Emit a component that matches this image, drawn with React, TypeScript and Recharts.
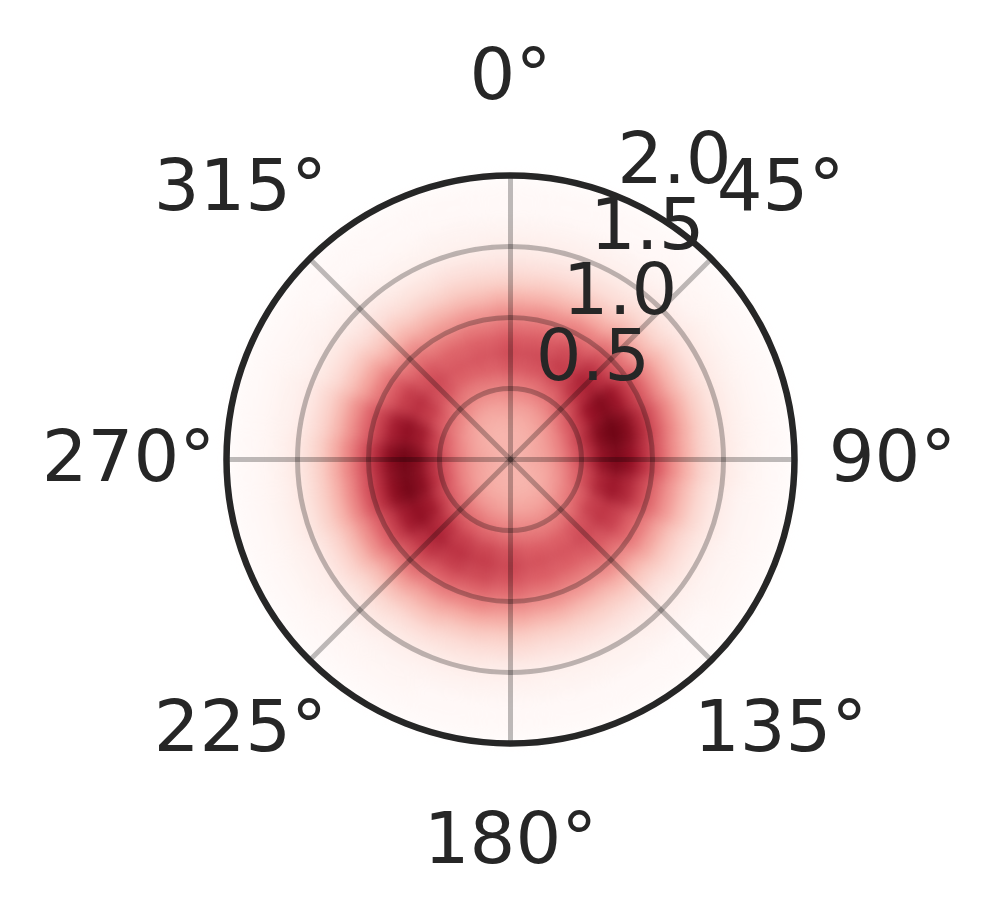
import React from 'react';
import {
  RadialBarChart,
  RadialBar,
  RadarChart,
  PolarAngleAxis,
  PolarRadiusAxis,
  PolarGrid,
  Cell,
} from 'recharts';

// ---------------- data ----------------
// ring centres (radius, data units)
const ringRadii = [0.05, 0.15, 0.25, 0.35, 0.45, 0.55, 0.65, 0.75, 0.85, 0.95, 1.05, 1.15, 1.25, 1.35, 1.45, 1.55, 1.65, 1.75, 1.85, 1.95];
// sector centres (degrees, clockwise from north)
const sectorAngles = [0, 15, 30, 45, 60, 75, 90, 105, 120, 135, 150, 165, 180, 195, 210, 225, 240, 255, 270, 285, 300, 315, 330, 345];
// intensity rows: one row per ring, one value per sector
const intensity: number[][] = [
  [0.32, 0.32, 0.32, 0.32, 0.33, 0.33, 0.33, 0.33, 0.32, 0.32, 0.32, 0.32, 0.32, 0.32, 0.32, 0.32, 0.33, 0.33, 0.33, 0.33, 0.32, 0.32, 0.32, 0.32],
  [0.31, 0.31, 0.31, 0.32, 0.33, 0.34, 0.34, 0.33, 0.32, 0.31, 0.30, 0.30, 0.31, 0.31, 0.32, 0.32, 0.33, 0.34, 0.34, 0.33, 0.32, 0.31, 0.30, 0.30],
  [0.32, 0.32, 0.33, 0.35, 0.37, 0.38, 0.37, 0.35, 0.33, 0.32, 0.31, 0.31, 0.32, 0.33, 0.33, 0.35, 0.36, 0.38, 0.38, 0.36, 0.34, 0.32, 0.31, 0.31],
  [0.36, 0.36, 0.38, 0.41, 0.45, 0.47, 0.46, 0.42, 0.39, 0.36, 0.35, 0.35, 0.36, 0.38, 0.39, 0.41, 0.44, 0.46, 0.47, 0.44, 0.39, 0.36, 0.34, 0.35],
  [0.43, 0.44, 0.46, 0.52, 0.59, 0.62, 0.60, 0.54, 0.48, 0.44, 0.41, 0.42, 0.44, 0.46, 0.49, 0.52, 0.56, 0.61, 0.61, 0.56, 0.49, 0.44, 0.41, 0.41],
  [0.52, 0.53, 0.57, 0.65, 0.74, 0.79, 0.76, 0.68, 0.59, 0.53, 0.50, 0.51, 0.54, 0.57, 0.60, 0.65, 0.71, 0.77, 0.78, 0.71, 0.61, 0.53, 0.49, 0.50],
  [0.62, 0.63, 0.68, 0.77, 0.88, 0.94, 0.90, 0.81, 0.71, 0.63, 0.59, 0.60, 0.64, 0.68, 0.71, 0.77, 0.85, 0.92, 0.93, 0.85, 0.72, 0.63, 0.58, 0.59],
  [0.66, 0.67, 0.72, 0.82, 0.94, 1.00, 0.96, 0.86, 0.75, 0.67, 0.63, 0.64, 0.68, 0.72, 0.76, 0.82, 0.90, 0.98, 0.99, 0.90, 0.77, 0.67, 0.62, 0.63],
  [0.61, 0.62, 0.67, 0.76, 0.87, 0.93, 0.89, 0.80, 0.70, 0.62, 0.59, 0.60, 0.63, 0.67, 0.71, 0.76, 0.84, 0.91, 0.92, 0.84, 0.72, 0.62, 0.58, 0.59],
  [0.52, 0.53, 0.57, 0.65, 0.74, 0.79, 0.76, 0.68, 0.59, 0.53, 0.50, 0.51, 0.54, 0.57, 0.60, 0.65, 0.71, 0.77, 0.78, 0.71, 0.61, 0.53, 0.49, 0.50],
  [0.41, 0.42, 0.45, 0.51, 0.58, 0.62, 0.60, 0.53, 0.47, 0.42, 0.39, 0.40, 0.42, 0.45, 0.47, 0.51, 0.56, 0.61, 0.61, 0.56, 0.48, 0.42, 0.38, 0.39],
  [0.30, 0.30, 0.32, 0.37, 0.42, 0.45, 0.43, 0.39, 0.34, 0.30, 0.28, 0.29, 0.31, 0.32, 0.34, 0.37, 0.41, 0.44, 0.45, 0.41, 0.35, 0.30, 0.28, 0.28],
  [0.20, 0.21, 0.22, 0.25, 0.29, 0.31, 0.30, 0.27, 0.23, 0.21, 0.20, 0.20, 0.21, 0.22, 0.24, 0.25, 0.28, 0.30, 0.31, 0.28, 0.24, 0.21, 0.19, 0.20],
  [0.13, 0.13, 0.14, 0.16, 0.19, 0.20, 0.19, 0.17, 0.15, 0.13, 0.13, 0.13, 0.14, 0.14, 0.15, 0.16, 0.18, 0.20, 0.20, 0.18, 0.15, 0.13, 0.12, 0.13],
  [0.08, 0.08, 0.09, 0.10, 0.11, 0.12, 0.12, 0.10, 0.09, 0.08, 0.08, 0.08, 0.08, 0.09, 0.09, 0.10, 0.11, 0.12, 0.12, 0.11, 0.09, 0.08, 0.07, 0.08],
  [0.05, 0.05, 0.05, 0.06, 0.07, 0.07, 0.07, 0.06, 0.05, 0.05, 0.04, 0.04, 0.05, 0.05, 0.05, 0.06, 0.06, 0.07, 0.07, 0.06, 0.05, 0.05, 0.04, 0.04],
  [0.03, 0.03, 0.03, 0.03, 0.04, 0.04, 0.04, 0.03, 0.03, 0.03, 0.03, 0.03, 0.03, 0.03, 0.03, 0.03, 0.04, 0.04, 0.04, 0.04, 0.03, 0.03, 0.02, 0.03],
  [0.01, 0.01, 0.01, 0.02, 0.02, 0.02, 0.02, 0.02, 0.02, 0.01, 0.01, 0.01, 0.01, 0.01, 0.02, 0.02, 0.02, 0.02, 0.02, 0.02, 0.02, 0.01, 0.01, 0.01],
  [0.01, 0.01, 0.01, 0.01, 0.01, 0.01, 0.01, 0.01, 0.01, 0.01, 0.01, 0.01, 0.01, 0.01, 0.01, 0.01, 0.01, 0.01, 0.01, 0.01, 0.01, 0.01, 0.01, 0.01],
  [0.00, 0.00, 0.00, 0.00, 0.00, 0.00, 0.00, 0.00, 0.00, 0.00, 0.00, 0.00, 0.00, 0.00, 0.00, 0.00, 0.00, 0.00, 0.00, 0.00, 0.00, 0.00, 0.00, 0.00],
];
const angleLabels = ['0°', '45°', '90°', '135°', '180°', '225°', '270°', '315°'];
const radiusTicks = [0.5, 1.0, 1.5, 2.0];
const radiusMax = 2.0;

// ---------------- styling ----------------
const W = 999;
const H = 919;
const CX = 510.5;
const CY = 459.5;
const R = 284;
const FONT = '"DejaVu Sans", "Liberation Sans", sans-serif';
const TEXT = '#262626';

const colorStops: [number, string][] = [
  [0.0, '#fffaf9'],
  [0.1, '#fde6e1'],
  [0.2, '#fad0c8'],
  [0.32, '#f6ada5'],
  [0.45, '#ec8583'],
  [0.6, '#db5a62'],
  [0.75, '#be3242'],
  [0.88, '#950d22'],
  [1.0, '#6b0010'],
];

function hexToRgb(h: string): number[] {
  return [parseInt(h.slice(1, 3), 16), parseInt(h.slice(3, 5), 16), parseInt(h.slice(5, 7), 16)];
}

function colorFor(v: number): string {
  const x = Math.max(0, Math.min(1, v));
  for (let i = 1; i < colorStops.length; i++) {
    const [v1, c1] = colorStops[i];
    const [v0, c0] = colorStops[i - 1];
    if (x <= v1) {
      const t = (x - v0) / (v1 - v0);
      const a = hexToRgb(c0);
      const b = hexToRgb(c1);
      const m = a.map((q, k) => Math.round(q + (b[k] - q) * t));
      return `rgb(${m[0]},${m[1]},${m[2]})`;
    }
  }
  return colorStops[colorStops.length - 1][1];
}

// angular width of one sector comes from the sector grid
const sectorStep = 360 / sectorAngles.length;

const ringRows = ringRadii.map((r) => {
  const row: Record<string, number | string> = { r: String(r) };
  sectorAngles.forEach((_, j) => {
    row[`s${j}`] = sectorStep;
  });
  return row;
});

const angleRows = angleLabels.map((label) => ({ label }));

const AngleTick = (props: any) => {
  const { x, y, payload } = props;
  return (
    <text
      x={x}
      y={y - 4}
      textAnchor="middle"
      dominantBaseline="central"
      fontSize={72}
      fontFamily={FONT}
      fill={TEXT}
    >
      {payload.value}
    </text>
  );
};

const RadiusTick = (props: any) => {
  const { x, y, payload } = props;
  return (
    <text x={x - 2} y={y - 14} textAnchor="start" fontSize={72} fontFamily={FONT} fill={TEXT}>
      {Number(payload.value).toFixed(1)}
    </text>
  );
};

export default function App() {
  return (
    <div style={{ position: 'relative', width: W, height: H, background: '#ffffff' }}>
      <style>{'body{margin:0;}'}</style>
      {/* heat map layer */}
      <div style={{ position: 'absolute', left: 0, top: 0, filter: 'blur(6px)' }}>
        <RadialBarChart
          width={W}
          height={H}
          cx={CX}
          cy={CY}
          innerRadius={0}
          outerRadius={R}
          startAngle={90 + sectorStep / 2}
          endAngle={90 + sectorStep / 2 - 360}
          data={ringRows}
          barCategoryGap={0}
          barGap={0}
          margin={{ top: 0, right: 0, bottom: 0, left: 0 }}
        >
          <PolarAngleAxis type="number" domain={[0, 360]} tick={false} axisLine={false} />
          <PolarRadiusAxis type="category" dataKey="r" tick={false} axisLine={false} />
          {sectorAngles.map((a, j) => (
            <RadialBar key={a} dataKey={`s${j}`} stackId="heat" isAnimationActive={false}>
              {ringRadii.map((r, i) => (
                <Cell key={r} fill={colorFor(intensity[i][j])} stroke="none" />
              ))}
            </RadialBar>
          ))}
        </RadialBarChart>
      </div>
      {/* grid, spine and labels */}
      <div style={{ position: 'absolute', left: 0, top: 0 }}>
        <RadarChart
          width={W}
          height={H}
          cx={CX}
          cy={CY}
          innerRadius={0}
          outerRadius={R}
          startAngle={90}
          endAngle={-270}
          data={angleRows}
          margin={{ top: 0, right: 0, bottom: 0, left: 0 }}
        >
          <PolarGrid gridType="circle" stroke="#000000" strokeOpacity={0.26} strokeWidth={5} />
          <PolarAngleAxis
            dataKey="label"
            tick={<AngleTick />}
            tickLine={false}
            tickSize={98}
            axisLineType="circle"
            stroke={TEXT}
            strokeWidth={6.5}
            axisLine={{ stroke: TEXT, strokeWidth: 6.5, strokeOpacity: 1 }}
          />
          <PolarRadiusAxis
            type="number"
            angle={67.5}
            domain={[0, radiusMax]}
            allowDataOverflow={true}
            ticks={radiusTicks}
            tick={<RadiusTick />}
            axisLine={false}
            tickLine={false}
          />
        </RadarChart>
      </div>
    </div>
  );
}
